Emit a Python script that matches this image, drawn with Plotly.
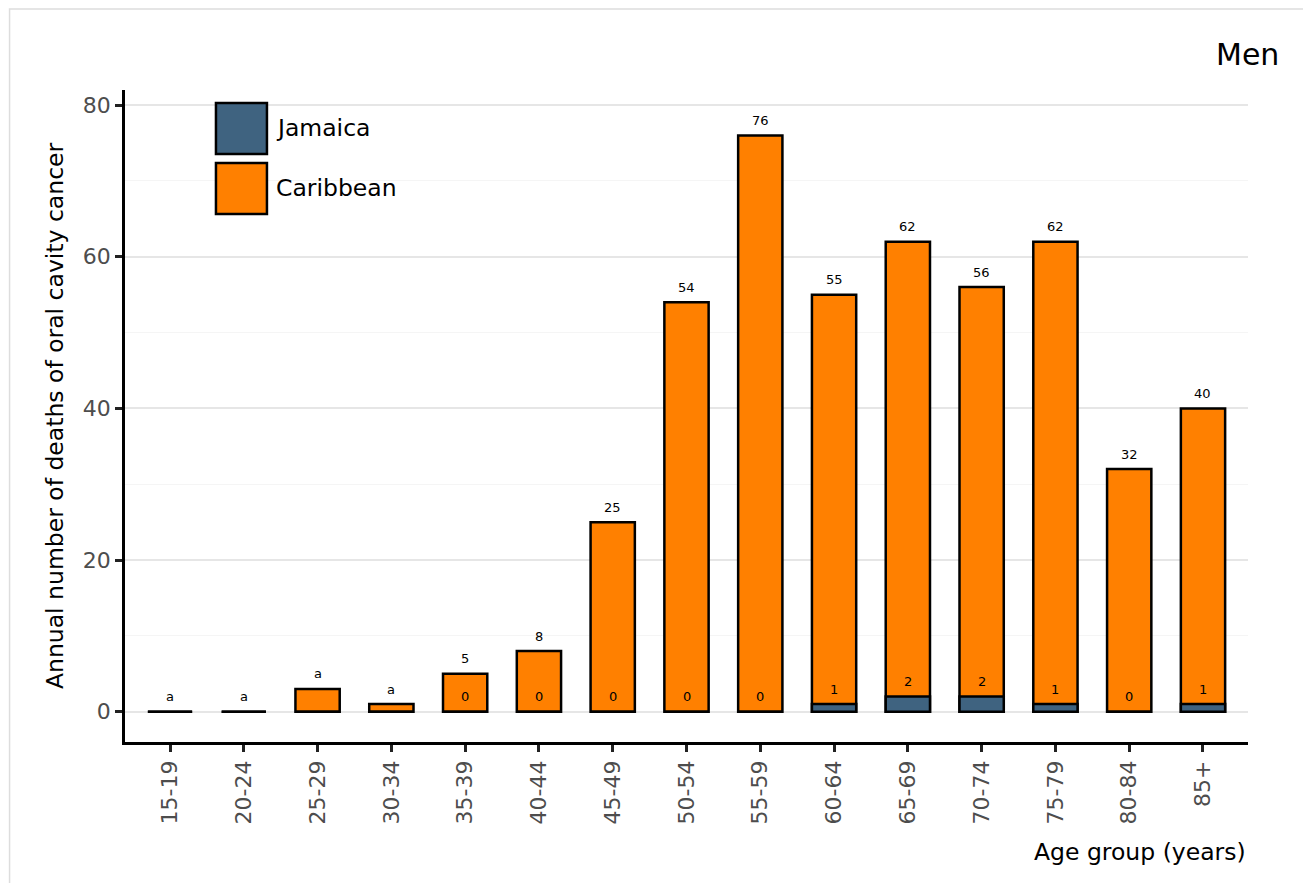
import plotly.graph_objects as go

age_groups = ["15-19", "20-24", "25-29", "30-34", "35-39", "40-44", "45-49", "50-54",
              "55-59", "60-64", "65-69", "70-74", "75-79", "80-84", "85+"]
caribbean = [0, 0, 3, 1, 5, 8, 25, 54, 76, 55, 62, 56, 62, 32, 40]
jamaica = [0, 0, 0, 0, 0, 0, 0, 0, 0, 1, 2, 2, 1, 0, 1]
caribbean_labels = ["a", "a", "a", "a", "5", "8", "25", "54", "76", "55", "62", "56", "62", "32", "40"]
jamaica_labels = ["", "", "", "", "0", "0", "0", "0", "0", "1", "2", "2", "1", "0", "1"]
y_ticks = [0, 20, 40, 60, 80]

COL_CAR = "#FF8000"
COL_JAM = "#3F6380"
FONT = "DejaVu Sans"

fig = go.Figure()
fig.add_trace(go.Bar(x=age_groups, y=caribbean, name="Caribbean", width=0.6,
                     marker=dict(color=COL_CAR, line=dict(color="black", width=2.5)),
                     showlegend=False, hoverinfo="x+y+name"))
fig.add_trace(go.Bar(x=age_groups, y=jamaica, name="Jamaica", width=0.6,
                     marker=dict(color=COL_JAM, line=dict(color="black", width=2.5)),
                     showlegend=False, hoverinfo="x+y+name"))

annotations = []
for xg, v, lab in zip(age_groups, caribbean, caribbean_labels):
    if lab:
        annotations.append(dict(x=xg, y=v, xref="x", yref="y", text=lab, showarrow=False,
                                yanchor="middle", yshift=15, font=dict(size=13, color="black", family=FONT)))
for xg, v, lab in zip(age_groups, jamaica, jamaica_labels):
    if lab:
        annotations.append(dict(x=xg, y=v, xref="x", yref="y", text=lab, showarrow=False,
                                yanchor="middle", yshift=15, font=dict(size=13, color="black", family=FONT)))

# axis titles, title
annotations.append(dict(x=1, y=-0.1687, xref="paper", yref="paper", text="Age group (years)",
                        showarrow=False, xanchor="right", yanchor="middle",
                        font=dict(size=23.5, color="black", family=FONT)))
annotations.append(dict(x=-0.0623, y=0.5, xref="paper", yref="paper",
                        text="Annual number of deaths of oral cavity cancer", textangle=-90,
                        showarrow=False, xanchor="center", yanchor="middle",
                        font=dict(size=23.5, color="black", family=FONT)))
annotations.append(dict(x=1.0294, y=1.0552, xref="paper", yref="paper", text="Men",
                        showarrow=False, xanchor="right", yanchor="middle",
                        font=dict(size=30, color="black", family=FONT)))
# legend text
annotations.append(dict(x=0.1326, y=0.9417, xref="paper", yref="paper", text="Jamaica",
                        showarrow=False, xanchor="left", yanchor="middle",
                        font=dict(size=23.5, color="black", family=FONT)))
annotations.append(dict(x=0.1326, y=0.8497, xref="paper", yref="paper", text="Caribbean",
                        showarrow=False, xanchor="left", yanchor="middle",
                        font=dict(size=23.5, color="black", family=FONT)))

shapes = [
    # outer frame
    dict(type="rect", xref="paper", yref="paper", x0=-0.1028, x1=1.2, y0=-0.3, y1=1.1242,
         line=dict(color="#dddddd", width=1.5), fillcolor="rgba(0,0,0,0)", layer="below"),
    # legend boxes
    dict(type="rect", xref="paper", yref="paper", x0=0.081, x1=0.1264, y0=0.9018, y1=0.980,
         line=dict(color="black", width=2.5), fillcolor=COL_JAM),
    dict(type="rect", xref="paper", yref="paper", x0=0.081, x1=0.1264, y0=0.8098, y1=0.888,
         line=dict(color="black", width=2.5), fillcolor=COL_CAR),
]

fig.update_layout(
    width=1295, height=875,
    margin=dict(l=117, r=55, t=82, b=141),
    barmode="overlay",
    plot_bgcolor="white", paper_bgcolor="white",
    font=dict(family=FONT),
    annotations=annotations,
    shapes=shapes,
    showlegend=False,
)
fig.update_xaxes(range=[-0.61, 14.61], showline=True, linecolor="black", linewidth=2.5,
                 ticks="outside", ticklen=7, tickwidth=2.5, tickcolor="#222222",
                 tickangle=-90, tickfont=dict(size=22, color="#4d4d4d", family=FONT),
                 showgrid=False, zeroline=False)
fig.update_yaxes(range=[-4, 82], tickvals=y_ticks, showline=True, linecolor="black", linewidth=2.5,
                 ticks="outside", ticklen=7, tickwidth=2.5, tickcolor="#222222",
                 tickfont=dict(size=22, color="#4d4d4d", family=FONT),
                 showgrid=True, gridcolor="#e6e6e6", gridwidth=2, zeroline=False,
                 minor=dict(tickvals=[10, 30, 50, 70], showgrid=True, gridcolor="#f5f5f5", gridwidth=1, ticks=""))

fig.write_html("out.html")
